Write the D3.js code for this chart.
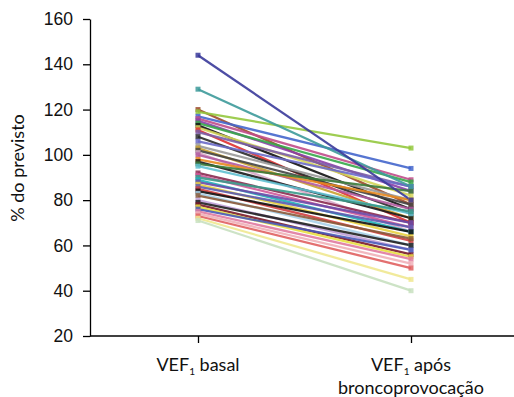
<!DOCTYPE html>
<html>
<head>
<meta charset="utf-8">
<script src="https://cdn.jsdelivr.net/npm/d3@7"></script>
<style>
  body { margin: 0; background: #fff; }
  svg { display: block; font-family: Lato, "Noto Sans", sans-serif; }
  .axis path, .axis line { stroke: #000; stroke-width: 1.3; }
  .axis text { font-size: 17.5px; fill: #111; }
</style>
</head>
<body>
<div id="app"></div>
<script>
const categories = ['basal', 'apos'];
const yTicks = [20, 40, 60, 80, 100, 120, 140, 160];

// one value per subject
const basal = [120, 119, 117, 116, 115, 114, 113, 112, 111, 110, 108, 106, 104, 103, 102, 101, 100,
  98, 97, 96, 95, 92, 91, 90, 89, 88, 87, 86, 85, 84, 83, 82, 80, 79, 78, 77, 76, 75, 74, 73, 72, 71, 129, 144];
const apos = [78, 103, 94, 89, 84, 88, 76, 82, 70, 86, 74, 86, 80, 72, 78, 66, 76,
  80, 72, 84, 74, 70, 68, 75, 66, 70, 64, 68, 62, 66, 60, 63, 58, 60, 56, 55, 58, 54, 52, 50, 45, 40, 86, 80];

const palette = ['#9c4a2a', '#93c83e', '#4466cc', '#c04d8a', '#8a3fa8', '#36a84a', '#111111', '#d4d45a', '#e03030',
  '#7b5ea7', '#2a2a2a', '#6a6ac8', '#999999', '#c8a030', '#444444', '#d8a8c8', '#b05aa0',
  '#e88a20', '#1a1a1a', '#3a7a3a', '#60c0d0', '#8a2a50', '#d05a9a', '#3a9a8a', '#20b0b8', '#6a4aa8', '#e8d040',
  '#5a5ab0', '#d04040', '#111111', '#a8d0e8', '#8a5a3a', '#c0a0d8', '#202020', '#7a1a2a', '#e8e040', '#4a5ab8',
  '#e07aa0', '#f0b0b8', '#e06060', '#f0e890', '#c8e0c0', '#3d9a9a', '#3a3a9a'];

const width = 514, height = 397;
const margin = { top: 19, bottom: 61, left: 90 };

const svg = d3.select('#app').append('svg')
  .attr('width', width)
  .attr('height', height);

const x = d3.scalePoint().domain(categories).range([198, 411]);
const y = d3.scaleLinear().domain([20, 160]).range([height - margin.bottom, margin.top]);

// axes
svg.append('g')
  .attr('class', 'axis')
  .attr('transform', `translate(${margin.left},0)`)
  .call(d3.axisLeft(y).tickValues(yTicks).tickSize(7).tickSizeOuter(0).tickPadding(10));

const xAxis = svg.append('g')
  .attr('class', 'axis')
  .attr('transform', `translate(0,${height - margin.bottom})`)
  .call(d3.axisBottom(x).tickSize(7).tickSizeOuter(0).tickFormat(''));
xAxis.select('.domain').remove();
svg.append('line')
  .attr('x1', margin.left).attr('x2', width)
  .attr('y1', height - margin.bottom).attr('y2', height - margin.bottom)
  .attr('stroke', '#000').attr('stroke-width', 1.3);

// lines
const pairs = basal.map((b, i) => ({ b: b, a: apos[i], c: palette[i] }));
const g = svg.append('g');
g.selectAll('line')
  .data(pairs)
  .enter()
  .append('line')
  .attr('x1', x('basal'))
  .attr('y1', d => y(d.b))
  .attr('x2', x('apos'))
  .attr('y2', d => y(d.a))
  .attr('stroke', d => d.c)
  .attr('stroke-width', 2.3)
  .attr('stroke-opacity', 0.9);

// end markers
const ends = pairs.flatMap(d => [{ k: 'basal', v: d.b, c: d.c }, { k: 'apos', v: d.a, c: d.c }]);
g.selectAll('rect')
  .data(ends)
  .enter()
  .append('rect')
  .attr('x', d => x(d.k) - 2.5)
  .attr('y', d => y(d.v) - 2.5)
  .attr('width', 5)
  .attr('height', 5)
  .attr('fill', d => d.c)
  .attr('opacity', 0.85);

// labels
const lab = svg.append('g').attr('font-size', 18).attr('fill', '#111').attr('text-anchor', 'middle');
const t1 = lab.append('text').attr('x', x('basal')).attr('y', 371);
t1.append('tspan').text('VEF');
t1.append('tspan').attr('font-size', 10).attr('dy', 4).text('1');
t1.append('tspan').attr('dy', -4).text(' basal');

const t2 = lab.append('text').attr('x', x('apos')).attr('y', 371);
t2.append('tspan').text('VEF');
t2.append('tspan').attr('font-size', 10).attr('dy', 4).text('1');
t2.append('tspan').attr('dy', -4).text(' após');
lab.append('text').attr('x', x('apos')).attr('y', 394).text('broncoprovocação');

svg.append('text')
  .attr('transform', 'translate(24,168) rotate(-90)')
  .attr('text-anchor', 'middle')
  .attr('font-size', 18)
  .attr('fill', '#111')
  .text('% do previsto');
</script>
</body>
</html>
